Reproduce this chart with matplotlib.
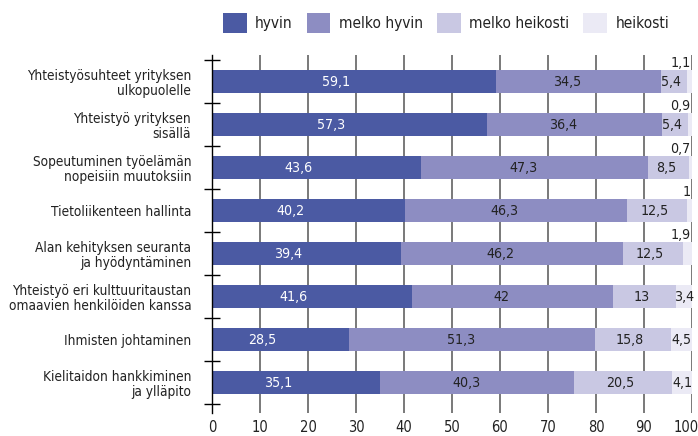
import matplotlib
matplotlib.use("Agg")
import matplotlib.pyplot as plt
import numpy as np
from matplotlib.ticker import FixedLocator
from matplotlib import font_manager
import matplotlib.transforms as mtransforms

_fonts = font_manager.fontManager.ttflist
_names = {f.name for f in _fonts}
if "Liberation Sans Narrow" in _names:
    plt.rcParams['font.family'] = ['Liberation Sans Narrow', 'DejaVu Sans']
    FS = 1.08
elif any(f.name == "DejaVu Sans" and f.stretch in ("condensed", 600, "semi-condensed") for f in _fonts):
    plt.rcParams['font.family'] = ['DejaVu Sans']
    plt.rcParams['font.stretch'] = 'condensed'
    FS = 1.0
else:
    plt.rcParams['font.family'] = ['Liberation Sans', 'DejaVu Sans']
    FS = 0.93

categories = [
    "Yhteistyösuhteet yrityksen\nulkopuolelle",
    "Yhteistyö yrityksen\nsisällä",
    "Sopeutuminen työelämän\nnopeisiin muutoksiin",
    "Tietoliikenteen hallinta",
    "Alan kehityksen seuranta\nja hyödyntäminen",
    "Yhteistyö eri kulttuuritaustan\nomaavien henkilöiden kanssa",
    "Ihmisten johtaminen",
    "Kielitaidon hankkiminen\nja ylläpito",
]
series_names = ["hyvin", "melko hyvin", "melko heikosti", "heikosti"]
hyvin = [59.1, 57.3, 43.6, 40.2, 39.4, 41.6, 28.5, 35.1]
melko_hyvin = [34.5, 36.4, 47.3, 46.3, 46.2, 42, 51.3, 40.3]
melko_heikosti = [5.4, 5.4, 8.5, 12.5, 12.5, 13, 15.8, 20.5]
heikosti = [1.1, 0.9, 0.7, 1, 1.9, 3.4, 4.5, 4.1]
x_ticks = [0, 10, 20, 30, 40, 50, 60, 70, 80, 90, 100]

colors = ["#4b5aa3", "#8d8dc2", "#c9c8e3", "#ebeaf5"]
text_color = "#222222"

fig = plt.figure(figsize=(6.98, 4.36), dpi=100)
ax = fig.add_axes([212 / 698, (436 - 413) / 436, 480 / 698, 358 / 436])

data = [hyvin, melko_hyvin, melko_heikosti, heikosti]
y = np.arange(len(categories))
left = np.zeros(len(categories))
bar_h = 0.52
containers = []
for vals, col, name in zip(data, colors, series_names):
    vals = np.array(vals, dtype=float)
    c = ax.barh(y, vals, left=left, height=bar_h, color=col, label=name, zorder=3)
    containers.append((c, vals, left.copy()))
    left = left + vals

def fmt(v):
    return f"{v:g}".replace(".", ",")

vfs = 10.2 * FS
offsets = [-13, -8, -2, 0]
for si, (c, vals, lefts) in enumerate(containers):
    for i, (v, l) in enumerate(zip(vals, lefts)):
        col = "white" if si == 0 else text_color
        if si == 3 and v < 2:
            ax.annotate(fmt(v), xy=(99.7, i - bar_h / 2), xytext=(0, 0.5),
                        textcoords="offset points", ha="right", va="bottom",
                        fontsize=vfs, color=text_color, zorder=5,
                        annotation_clip=False)
        else:
            ax.annotate(fmt(v), xy=(l + v / 2, i), xytext=(offsets[si], 0),
                        textcoords="offset points", ha="center", va="center",
                        fontsize=vfs, color=col, zorder=5, annotation_clip=False)

ax.set_xlim(0, 100)
ax.set_ylim(7.5 + 9 / 43, -0.5 - 5 / 43)
ax.set_xticks(x_ticks)
ax.set_xticklabels([str(t) for t in x_ticks])
ax.set_yticks(y)
ax.set_yticklabels(categories, fontsize=9.8 * FS, color=text_color, ha="right",
                   multialignment="right", linespacing=1.12)
ax.yaxis.set_minor_locator(FixedLocator(np.arange(len(categories) + 1) - 0.5))
ax.tick_params(axis="y", which="major", length=0, pad=15)
ax.tick_params(axis="y", which="minor", direction="inout", length=11, width=1, color="black")
ax.tick_params(axis="x", which="major", length=0, pad=5, labelsize=10.5 * FS, labelcolor=text_color)

ax.xaxis.grid(True, color="#555555", linewidth=1.1, zorder=0)
ax.set_axisbelow(True)
for s in ["top", "right", "bottom"]:
    ax.spines[s].set_visible(False)
ax.spines["left"].set_color("black")
ax.spines["left"].set_linewidth(1.0)
ax.spines["left"].set_zorder(4)

labs = ax.get_xticklabels()
labs[-1].set_ha("right")
labs[-1].set_transform(labs[-1].get_transform() + mtransforms.ScaledTranslation(5 / 72, 0, fig.dpi_scale_trans))

handles = [cc[0] for cc in containers]
fig.legend(handles, series_names, loc="center", bbox_to_anchor=(0.639, 0.947), ncol=4,
           frameon=False, fontsize=11.1 * FS, handlelength=1.55, handleheight=1.55,
           handletextpad=0.55, columnspacing=0.9, labelcolor=text_color)

fig.savefig("out.png", dpi=100)
